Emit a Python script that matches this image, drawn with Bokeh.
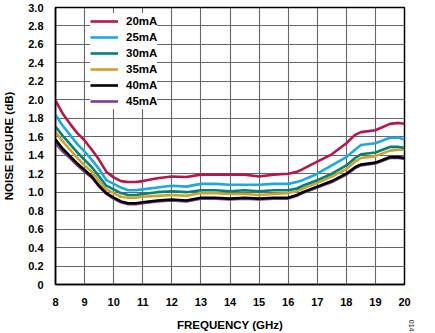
import math
from bokeh.plotting import figure
from bokeh.models import (FixedTicker, CustomJSTickFormatter, Legend, LegendItem,
                          Title, Range1d)
from bokeh.embed import file_html
from bokeh.resources import INLINE

freq = [8, 8.25, 8.5, 8.75, 9, 9.25, 9.5, 9.75, 10, 10.25, 10.5, 10.75, 11, 11.5,
        12, 12.5, 13, 13.5, 14, 14.5, 15, 15.5, 16, 16.3, 16.5, 17, 17.5, 18,
        18.3, 18.5, 19, 19.5, 19.8, 20]

nf_20mA = [1.99, 1.85, 1.74, 1.64, 1.56, 1.46, 1.35, 1.22, 1.16, 1.12, 1.11, 1.11, 1.12, 1.15,
           1.17, 1.165, 1.19, 1.19, 1.19, 1.19, 1.17, 1.19, 1.20, 1.22, 1.25, 1.33, 1.41, 1.53,
           1.62, 1.65, 1.67, 1.74, 1.75, 1.74]
nf_25mA = [1.84, 1.72, 1.62, 1.52, 1.44, 1.35, 1.25, 1.13, 1.09, 1.05, 1.02, 1.02, 1.03, 1.05,
           1.07, 1.06, 1.09, 1.09, 1.08, 1.08, 1.08, 1.09, 1.09, 1.11, 1.13, 1.20, 1.29, 1.38,
           1.46, 1.51, 1.53, 1.59, 1.59, 1.57]
nf_30mA = [1.71, 1.61, 1.52, 1.43, 1.35, 1.27, 1.17, 1.07, 1.03, 0.99, 0.97, 0.97, 0.98, 1.00,
           1.01, 1.00, 1.02, 1.02, 1.01, 1.02, 1.01, 1.02, 1.02, 1.04, 1.07, 1.13, 1.20, 1.29,
           1.37, 1.41, 1.43, 1.49, 1.49, 1.48]
nf_35mA = [1.65, 1.55, 1.46, 1.37, 1.29, 1.22, 1.12, 1.03, 0.99, 0.95, 0.94, 0.94, 0.95, 0.96,
           0.97, 0.96, 0.99, 0.99, 0.98, 0.98, 0.97, 0.98, 0.99, 1.01, 1.04, 1.10, 1.17, 1.25,
           1.33, 1.37, 1.39, 1.45, 1.46, 1.46]
nf_40mA = [1.57, 1.47, 1.39, 1.31, 1.24, 1.17, 1.07, 0.99, 0.94, 0.90, 0.88, 0.88, 0.89, 0.91,
           0.92, 0.91, 0.94, 0.94, 0.93, 0.94, 0.93, 0.94, 0.94, 0.97, 1.00, 1.06, 1.12, 1.20,
           1.27, 1.30, 1.32, 1.38, 1.38, 1.37]
nf_45mA = [1.53, 1.44, 1.37, 1.29, 1.22, 1.16, 1.06, 0.98, 0.93, 0.89, 0.87, 0.87, 0.88, 0.90,
           0.91, 0.90, 0.93, 0.93, 0.92, 0.93, 0.92, 0.93, 0.93, 0.96, 0.99, 1.05, 1.11, 1.19,
           1.26, 1.29, 1.31, 1.37, 1.37, 1.36]

labels = ["20mA", "25mA", "30mA", "35mA", "40mA", "45mA"]
series = [nf_20mA, nf_25mA, nf_30mA, nf_35mA, nf_40mA, nf_45mA]
colors = ["#B5174B", "#1CA8E0", "#00837A", "#D2A12A", "#000000", "#7B3C96"]

x_ticks = list(range(8, 21))
y_ticks = [0, 0.2, 0.4, 0.6, 0.8, 1.0, 1.2, 1.4, 1.6, 1.8, 2.0, 2.2, 2.4, 2.6, 2.8, 3.0]

FONT = "Liberation Sans"

p = figure(width=435, height=333, output_backend="svg", toolbar_location=None,
           x_range=Range1d(8, 20), y_range=Range1d(0, 3.0),
           min_border_left=51, min_border_right=31, min_border_top=7, min_border_bottom=43)
p.background_fill_color = "white"
p.border_fill_color = "white"
p.outline_line_color = "black"
p.outline_line_width = 1.5

p.xaxis.ticker = FixedTicker(ticks=x_ticks)
p.yaxis.ticker = FixedTicker(ticks=y_ticks)
p.yaxis.formatter = CustomJSTickFormatter(code="return tick == 0 ? '0' : tick.toFixed(1);")

for ax in (p.xaxis[0], p.yaxis[0]):
    ax.major_tick_line_color = None
    ax.minor_tick_line_color = None
    ax.axis_line_color = "black"
    ax.axis_line_width = 1.5
    ax.major_label_text_font = FONT
    ax.major_label_text_font_style = "bold"
    ax.major_label_text_font_size = "11px"
    ax.major_label_text_color = "black"
    ax.axis_label_text_font = FONT
    ax.axis_label_text_font_style = "bold"
    ax.axis_label_text_font_size = "11.5px"
    ax.axis_label_text_color = "black"

p.xaxis.axis_label = "FREQUENCY (GHz)"
p.yaxis.axis_label = "NOISE FIGURE (dB)"
p.xaxis.major_label_standoff = 7
p.yaxis.major_label_standoff = 6
p.xaxis.axis_label_standoff = 10
p.yaxis.axis_label_standoff = 10

p.grid.grid_line_color = "#666666"
p.grid.grid_line_width = 1.1

renderers = {}
for lab, ys, col in reversed(list(zip(labels, series, colors))):
    renderers[lab] = p.line(freq, ys, line_color=col, line_width=2.6, line_join="round")

legend = Legend(items=[LegendItem(label=lab, renderers=[renderers[lab]]) for lab in labels],
                location=(35, 175))
legend.background_fill_color = "white"
legend.background_fill_alpha = 1.0
legend.border_line_color = None
legend.padding = 6
legend.spacing = 0
legend.margin = 0
legend.glyph_width = 28
legend.glyph_height = 16
legend.label_height = 16
legend.label_standoff = 8
legend.label_text_font = FONT
legend.label_text_font_style = "bold"
legend.label_text_font_size = "11.5px"
legend.label_text_color = "black"
p.add_layout(legend)

fig_no = Title(text="014", align="right", text_font=FONT, text_font_size="7px",
               text_font_style="normal", text_color="#222222", standoff=8, offset=-47)
p.add_layout(fig_no, "right")

open("out.html", "w").write(file_html(p, INLINE))
